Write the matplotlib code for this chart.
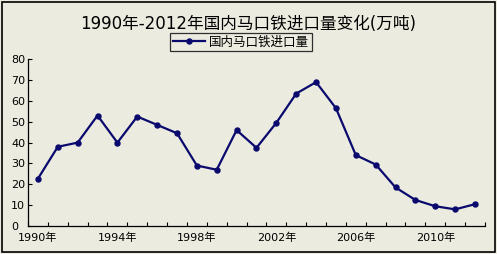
import matplotlib
matplotlib.use("Agg")
import matplotlib.pyplot as plt
from matplotlib.patches import Rectangle

plt.rcParams['font.family'] = ['DejaVu Sans', 'Noto Sans CJK SC']

##### data #####

years = list(range(1990, 2013))
imports = [22.7, 38, 40, 53, 40, 52.5, 48.5, 44.5, 29, 27, 46, 37.5,
           49.5, 63.5, 69, 56.5, 34, 29.5, 18.5, 12.5, 9.5, 8, 10.5]
year_labels = ["%d年" % y for y in years]
yticks = [0, 10, 20, 30, 40, 50, 60, 70, 80]

title = "1990年-2012年国内马口铁进口量变化(万吨)"
series_name = "国内马口铁进口量"

BG = "#ecebe0"
LINE = "#0a0a6e"

##### figure #####

fig = plt.figure(figsize=(4.97, 2.54), dpi=100, facecolor=BG)
# outer border
fig.patches.append(Rectangle((0.005, 0.008), 0.99, 0.984, transform=fig.transFigure,
                             fill=False, edgecolor="black", linewidth=1.2))

ax = fig.add_axes([0.0563, 0.110, 0.9195, 0.657], facecolor=BG)

x = list(range(len(years)))
line, = ax.plot(x, imports, color=LINE, linewidth=1.6, marker="o", markersize=3.6,
                label=series_name)

ax.set_xlim(-0.5, len(years) - 0.5)
ax.set_ylim(0, 80)

# category axis: ticks between categories, labels every 4 years
ax.set_xticks([i - 0.5 for i in range(len(years) + 1)], minor=True)
ax.set_xticks(x[::4])
ax.set_xticklabels(year_labels[::4], fontsize=8)
ax.tick_params(axis="x", which="major", length=0, pad=5)
ax.tick_params(axis="x", which="minor", direction="in", length=3, width=0.8)

ax.set_yticks(yticks)
ax.tick_params(axis="y", direction="in", length=3, width=0.8, labelsize=8, pad=12)
for lab in ax.get_yticklabels():
    lab.set_horizontalalignment("left")

for s in ["top", "right"]:
    ax.spines[s].set_visible(False)
for s in ["left", "bottom"]:
    ax.spines[s].set_linewidth(0.9)

fig.text(0.5, 0.905, title, ha="center", va="center", fontsize=12)

leg = fig.legend(handles=[line], loc="center", bbox_to_anchor=(0.485, 0.835),
                 fontsize=9, frameon=True, fancybox=False, handlelength=2.6,
                 borderpad=0.2, handletextpad=0.3, borderaxespad=0)
leg.get_frame().set_edgecolor("black")
leg.get_frame().set_facecolor(BG)
leg.get_frame().set_linewidth(0.9)

fig.savefig("out.png", dpi=100, facecolor=BG)
